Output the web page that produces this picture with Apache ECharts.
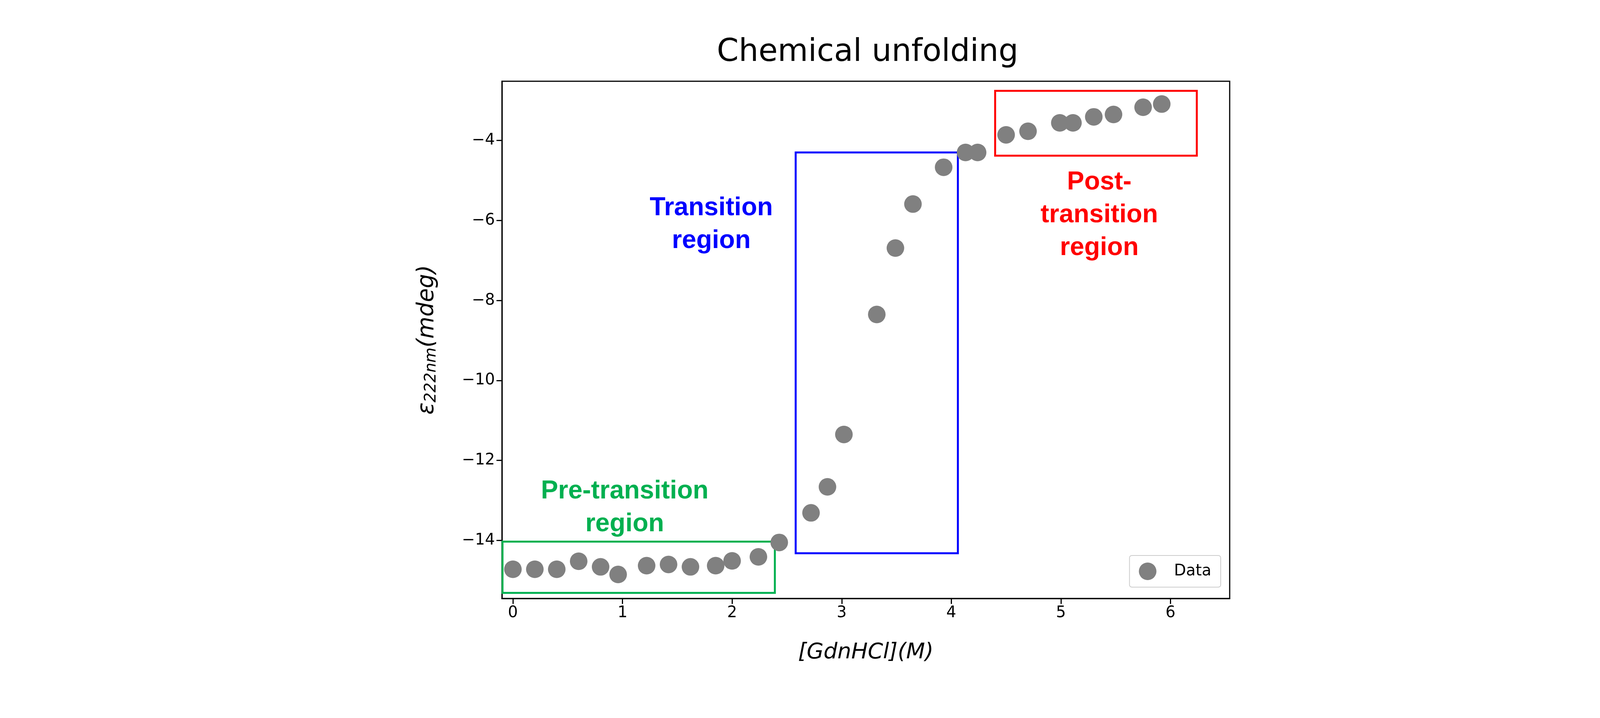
<!DOCTYPE html>
<html>
<head>
<meta charset="utf-8">
<script src="https://cdn.jsdelivr.net/npm/echarts@6/dist/echarts.min.js"></script>
<style>html,body{margin:0;padding:0;background:#fff}#main{width:4400px;height:1838px}</style>
</head>
<body>
<div id="main"></div>
<script>
// data
var conc = [0, 0.2, 0.4, 0.6, 0.8, 0.96, 1.22, 1.42, 1.62, 1.85, 2.0, 2.24, 2.43, 2.72, 2.87, 3.02, 3.32, 3.49, 3.65, 3.93, 4.13, 4.24, 4.50, 4.70, 4.99, 5.11, 5.30, 5.48, 5.75, 5.92];
var ellip = [-14.72, -14.72, -14.72, -14.52, -14.66, -14.85, -14.63, -14.60, -14.66, -14.63, -14.51, -14.41, -14.05, -13.31, -12.66, -11.35, -8.35, -6.69, -5.59, -4.67, -4.30, -4.30, -3.86, -3.77, -3.56, -3.56, -3.41, -3.35, -3.17, -3.09];
var xTicks = [0, 1, 2, 3, 4, 5, 6];
var yTicks = [-14, -12, -10, -8, -6, -4];
// region boxes: [x0, y0, x1, y1]
var regionNames = ['Pre-transition\nregion', 'Transition\nregion', 'Post-\ntransition\nregion'];
var regionColors = ['#00b050', '#0000ff', '#ff0000'];
var regionBoxes = [[-0.095, -14.03, 2.39, -15.31], [2.58, -4.30, 4.06, -14.32], [4.40, -2.76, 6.24, -4.38]];
var regionLabelPos = [[1.02, -13.18], [1.81, -6.10], [5.35, -5.87]];

var myChart = echarts.init(document.getElementById('main'));
var fmt = function (v) { return String(v).replace('-', '\u2212'); };

var boxData = regionBoxes.map(function (b, i) {
    return [
        { coord: [b[0], b[1]], itemStyle: { color: 'rgba(0,0,0,0)', borderColor: regionColors[i], borderWidth: 5, opacity: 1 } },
        { coord: [b[2], b[3]] }
    ];
});

var labelData = regionLabelPos.map(function (p, i) {
    return {
        value: p,
        itemStyle: { opacity: 1 },
        label: { show: true, position: 'inside', formatter: regionNames[i], color: regionColors[i], opacity: 1,
            fontSize: 66, fontWeight: 'bold', lineHeight: 84, fontFamily: 'Liberation Sans', align: 'center' }
    };
});

option = {
    title: {
        text: 'Chemical unfolding',
        left: 2216, top: 90, textAlign: 'center',
        textStyle: { fontSize: 80, fontWeight: 'normal', color: '#000', fontFamily: 'DejaVu Sans' }
    },
    legend: {
        data: ['Data'],
        right: 1275, bottom: 335,
        orient: 'vertical',
        itemWidth: 45, itemHeight: 45,
        padding: [18, 24],
        borderColor: '#ccc', borderWidth: 2, borderRadius: 6,
        textStyle: { fontSize: 40, color: '#000', fontFamily: 'DejaVu Sans', padding: [0, 0, 0, 40] }
    },
    grid: { left: 1285, right: 1252, top: 208, bottom: 306, show: true, borderColor: '#000', borderWidth: 3, backgroundColor: 'transparent' },
    xAxis: {
        type: 'value', min: -0.1, max: 6.54,
        name: '[GdnHCl](M)', nameLocation: 'middle', nameGap: 110,
        nameTextStyle: { fontSize: 56, fontStyle: 'italic', color: '#000', fontFamily: 'DejaVu Sans' },
        axisLine: { show: true, onZero: false, lineStyle: { color: '#000', width: 3 } },
        axisTick: { show: true, length: 14, lineStyle: { color: '#000', width: 3 }, customValues: xTicks },
        axisLabel: { fontSize: 40, color: '#000', margin: 18, fontFamily: 'DejaVu Sans', customValues: xTicks, formatter: fmt },
        splitLine: { show: false }
    },
    yAxis: {
        type: 'value', min: -15.45, max: -2.52,
        name: '{it|\u03b5}{sub|222nm}{it|(mdeg)}', nameLocation: 'middle', nameGap: 160,
        nameTextStyle: { rich: {
            it: { fontSize: 58, fontStyle: 'italic', color: '#000', fontFamily: 'DejaVu Sans' },
            sub: { fontSize: 40, fontStyle: 'italic', color: '#000', fontFamily: 'DejaVu Sans', verticalAlign: 'bottom', padding: [22, 0, 0, 0] }
        } },
        axisLine: { show: true, onZero: false, lineStyle: { color: '#000', width: 3 } },
        axisTick: { show: true, length: 14, lineStyle: { color: '#000', width: 3 }, customValues: yTicks },
        axisLabel: { fontSize: 40, color: '#000', margin: 18, fontFamily: 'DejaVu Sans', customValues: yTicks, formatter: fmt },
        splitLine: { show: false }
    },
    series: [
        {
            name: 'Data', type: 'scatter', symbolSize: 45,
            itemStyle: { color: '#808080', opacity: 1 },
            data: conc.map(function (x, i) { return [x, ellip[i]]; }),
            markArea: { silent: true, data: boxData },
            z: 3
        },
        {
            name: 'labels', type: 'scatter', symbolSize: 1, silent: true,
            itemStyle: { color: 'rgba(0,0,0,0)', opacity: 1 },
            data: labelData, z: 4
        }
    ]
};
myChart.setOption(option);
</script>
</body>
</html>
